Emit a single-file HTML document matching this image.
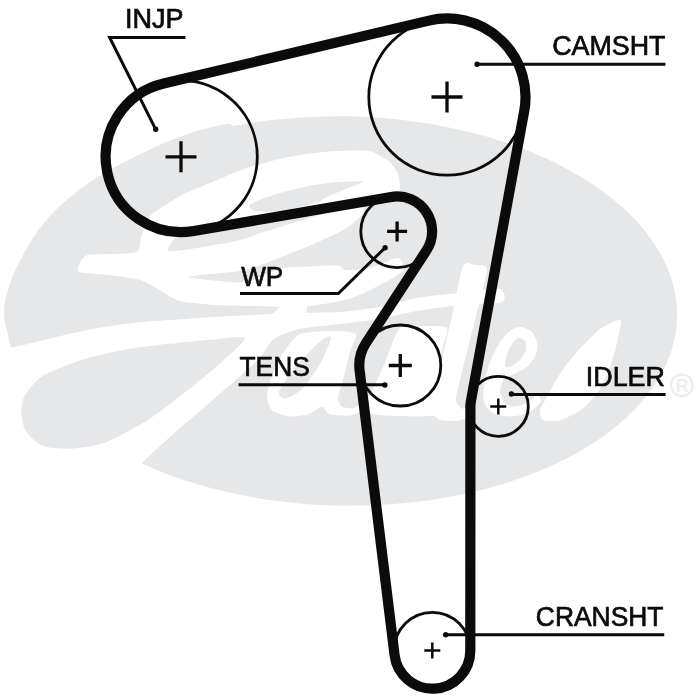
<!DOCTYPE html>
<html lang="en"><head><meta charset="utf-8"><title>Timing belt diagram</title>
<style>html,body{margin:0;padding:0;background:#fff}body{width:700px;height:700px;overflow:hidden}svg{display:block}text{font-family:"Liberation Sans",Arial,sans-serif;fill:#0b0b0b;stroke:#0b0b0b;stroke-width:0.7px}</style></head><body>
<svg width="700" height="700" viewBox="0 0 700 700">
<rect width="700" height="700" fill="#fff"/>
<g id="logo"><ellipse cx="344.0" cy="311" rx="333.2" ry="194.7" transform="rotate(1 344 311)" fill="#e6e7e9"/>
<path d="M230.0,124.0C226.5,123.1 206.8,128.1 200.0,130.0C193.2,131.9 178.1,137.3 171.4,140.0C164.7,142.7 149.6,149.5 142.9,152.8C136.2,156.1 121.0,164.4 114.3,168.4C107.6,172.4 92.4,181.9 85.7,187.0C79.0,192.1 63.7,205.4 57.0,212.4C50.3,219.4 33.6,240.0 28.6,247.0C23.6,254.0 17.0,266.4 14.3,272.4C11.6,278.3 6.9,292.8 5.7,298.0C4.5,303.2 3.9,312.7 4.2,317.0C4.5,321.3 7.0,331.4 8.0,335.0C9.0,338.6 8.8,347.4 12.5,348.0C16.2,348.6 36.8,347.9 40.0,340.0C43.2,332.1 36.5,293.1 40.0,280.0C43.5,266.9 61.8,238.5 70.0,228.0C78.2,217.5 100.7,197.3 110.0,190.0C119.3,182.7 139.5,170.2 150.0,165.0C160.5,159.8 190.7,148.2 200.0,145.0C209.3,141.8 226.5,140.4 230.0,138.0C233.5,135.6 233.5,124.9 230.0,124.0Z" fill="#e6e7e9"/>
<path d="M85.7,255.7C89.6,253.7 106.0,254.4 112.0,254.0C118.0,253.6 133.6,253.9 137.0,252.0C140.4,250.1 139.5,242.2 141.0,238.0C142.5,233.8 145.2,221.0 150.0,216.0C154.8,211.0 174.4,199.1 182.0,195.0C189.6,190.9 208.7,183.7 215.0,181.0C221.3,178.3 231.1,173.9 236.0,172.0C240.9,170.1 252.0,166.5 257.0,165.0C262.0,163.5 274.0,160.2 279.0,159.0C284.0,157.8 294.9,155.8 300.0,155.0C305.1,154.2 317.1,152.5 323.0,152.0C328.9,151.5 345.4,150.6 351.0,150.5C356.6,150.4 366.6,150.3 371.0,151.5C375.4,152.7 385.6,158.6 388.6,161.0C391.6,163.4 395.7,169.2 397.0,172.0C398.3,174.8 399.9,182.4 400.0,185.0C400.1,187.6 399.1,192.5 398.0,194.0C396.9,195.5 402.4,195.7 391.0,198.0C379.6,200.3 322.3,210.2 300.0,214.0C277.7,217.8 214.2,228.4 200.0,231.0C185.8,233.6 181.7,233.7 178.0,236.0C174.3,238.3 165.4,249.7 168.0,251.0C170.6,252.3 191.6,248.8 200.0,247.5C208.4,246.2 232.8,241.8 240.0,240.0C247.2,238.2 256.8,234.2 262.0,232.5C267.2,230.8 279.9,227.1 285.0,225.5C290.1,223.9 300.8,220.6 306.0,219.0C311.2,217.4 324.3,213.5 330.0,212.0C335.7,210.5 351.0,206.3 355.0,206.0C359.0,205.7 363.5,207.6 364.0,209.0C364.5,210.4 361.3,215.6 359.0,218.0C356.7,220.4 347.7,227.2 344.0,229.5C340.3,231.8 331.1,236.1 327.0,238.0C322.9,239.9 312.9,244.2 308.6,246.0C304.3,247.8 295.1,251.5 290.0,253.5C284.9,255.5 270.8,261.5 265.0,263.5C259.2,265.5 249.0,269.4 240.0,271.0C231.0,272.6 188.0,275.7 188.0,277.0C188.0,278.3 231.4,282.6 240.0,282.5C248.6,282.4 256.9,277.7 262.0,276.0C267.1,274.3 278.4,269.1 284.0,268.0C289.6,266.9 303.6,266.8 310.0,266.5C316.4,266.2 334.5,265.3 338.6,265.7C342.7,266.1 341.3,269.7 345.0,270.0C348.7,270.3 363.8,269.4 370.0,268.0C376.2,266.6 394.3,257.5 398.0,258.0C401.7,258.5 405.3,268.3 402.0,272.0C398.7,275.7 376.6,286.7 370.0,290.0C363.4,293.3 353.2,298.0 345.0,300.0C336.8,302.0 311.1,306.3 300.0,307.0C288.9,307.7 260.0,306.2 250.0,306.0C240.0,305.8 222.3,305.6 214.0,305.0C205.7,304.4 184.9,302.4 178.6,300.7C172.3,298.9 164.5,292.4 160.0,290.0C155.5,287.6 145.8,281.8 140.0,280.0C134.2,278.2 117.2,276.0 110.0,275.0C102.8,274.0 81.4,273.7 78.6,271.4C75.8,269.1 81.8,257.7 85.7,255.7Z" fill="#fff"/>
<path d="M249.0,206.0C249.5,204.6 256.2,201.1 260.3,199.4C264.4,197.7 278.5,193.3 284.3,191.7C290.1,190.1 304.0,186.8 310.0,185.7C316.0,184.6 329.5,182.8 335.7,182.3C341.9,181.8 361.8,180.6 363.0,181.4C364.2,182.2 350.2,187.2 346.0,189.0C341.8,190.8 330.2,195.5 327.0,197.0C323.8,198.5 321.8,200.8 318.6,202.0C315.5,203.2 305.1,205.9 300.0,207.0C294.9,208.1 280.1,211.0 275.0,211.5C269.9,212.0 259.0,211.6 256.0,211.0C253.0,210.4 248.5,207.4 249.0,206.0Z" fill="#e6e7e9"/>
<path d="M-10.0,352.0C-7.4,336.5 7.2,348.7 12.5,347.5C17.8,346.3 28.8,343.6 35.7,342.0C42.6,340.4 63.1,335.3 71.4,333.5C79.7,331.7 98.6,327.8 107.0,326.5C115.4,325.2 134.6,322.8 143.0,322.0C151.4,321.2 170.3,320.1 178.6,319.5C186.9,318.9 205.7,317.5 214.0,317.0C222.3,316.5 240.0,315.5 250.0,315.0C260.0,314.5 289.5,313.4 300.0,313.0C310.5,312.6 330.7,312.7 340.0,312.0C349.3,311.3 371.4,308.6 380.0,307.0C388.6,305.4 407.0,299.9 414.0,298.5C421.0,297.1 434.6,295.6 440.0,295.0C445.4,294.4 453.0,293.7 460.0,293.0C467.0,292.3 495.1,287.9 500.0,289.0C504.9,290.1 506.7,300.1 502.0,302.0C497.3,303.9 467.2,304.9 460.0,305.5C452.8,306.1 445.4,306.8 440.0,307.5C434.6,308.2 421.0,310.2 414.0,311.5C407.0,312.8 388.6,317.5 380.0,319.0C371.4,320.5 349.3,322.8 340.0,324.0C330.7,325.2 307.7,327.2 300.0,329.0C292.3,330.8 279.0,335.3 274.0,339.0C269.0,342.7 264.0,353.7 257.0,360.7C250.0,367.7 224.0,390.2 214.0,399.0C204.0,407.8 179.9,428.2 171.4,435.7C162.9,443.2 147.4,457.3 141.4,463.6C135.4,469.9 129.5,485.8 120.0,490.0C110.5,494.2 75.2,501.2 60.0,500.0C44.8,498.8 -1.8,497.3 -10.0,480.0C-18.2,462.7 -12.6,367.5 -10.0,352.0Z" fill="#fff"/>
<path d="M246.0,338.0C246.9,334.6 264.6,320.9 270.0,316.0C275.4,311.1 287.1,300.4 292.0,296.0C296.9,291.6 306.6,281.5 312.0,278.0C317.4,274.5 335.4,265.8 338.0,266.0C340.6,266.2 335.6,276.9 334.0,280.0C332.4,283.1 326.8,290.7 324.0,293.0C321.2,295.3 312.4,296.9 310.0,300.0C307.6,303.1 305.9,316.3 303.0,320.0C300.1,323.7 289.8,329.1 285.0,332.0C280.2,334.9 266.6,344.3 262.0,345.0C257.4,345.7 245.1,341.4 246.0,338.0Z" fill="#fff"/>
<path d="M21.4,412.0C21.3,407.8 22.5,399.2 25.0,395.0C27.5,390.8 35.9,379.9 43.0,375.7C50.1,371.5 75.7,361.7 85.7,358.6C95.7,355.5 118.6,350.8 128.6,349.0C138.6,347.2 161.4,344.7 171.4,343.6C181.4,342.5 205.4,340.2 214.0,339.5C222.6,338.8 243.9,335.5 245.0,338.0C246.1,340.5 229.1,355.1 223.0,360.7C216.9,366.3 201.5,379.2 193.0,386.0C184.5,392.8 160.0,412.1 150.0,418.6C140.0,425.1 116.0,438.5 107.0,442.0C98.0,445.5 80.5,448.1 73.0,448.6C65.5,449.1 48.5,448.1 43.0,446.0C37.5,443.9 28.2,435.0 25.7,431.0C23.2,427.0 21.5,416.2 21.4,412.0Z" fill="#e6e7e9"/>
<path d="M300.0,334.0C305.9,331.6 328.5,331.0 335.0,331.0C341.5,331.0 354.2,331.6 356.0,334.0C357.8,336.4 351.5,346.6 350.0,352.0C348.5,357.4 344.4,374.7 343.0,380.0C341.6,385.3 338.1,394.6 338.0,397.8C337.9,400.9 340.4,405.4 342.0,406.6C343.6,407.9 349.9,408.6 352.0,408.4C354.1,408.2 358.8,404.6 360.0,404.9C361.2,405.1 363.2,408.9 362.0,410.2C360.8,411.4 353.7,415.0 350.0,415.5C346.3,416.0 333.3,415.6 330.0,414.6C326.7,413.6 324.3,406.7 322.0,406.6C319.7,406.5 313.7,412.6 310.0,413.7C306.3,414.9 294.4,416.8 290.0,416.4C285.6,416.0 274.7,412.6 272.0,410.2C269.3,407.8 267.0,400.0 267.0,396.0C267.0,392.0 270.0,381.1 272.0,376.0C274.0,370.9 280.7,356.9 284.0,352.0C287.3,347.1 294.1,336.4 300.0,334.0Z" fill="#fff"/>
<path d="M322.0,340.0C326.1,336.7 331.2,335.2 331.0,338.0C330.8,340.8 323.4,358.1 320.0,364.0C316.6,369.9 306.1,384.8 302.0,388.9C297.9,392.9 287.7,398.3 285.0,398.6C282.3,398.9 277.7,395.3 279.0,391.5C280.3,387.7 291.0,372.0 296.0,366.0C301.0,360.0 317.9,343.3 322.0,340.0Z" fill="#e6e7e9"/>
<path d="M400.0,328.0C404.4,324.0 418.5,326.0 424.0,326.0C429.5,326.0 444.9,325.2 447.0,328.0C449.1,330.8 443.1,343.9 442.0,350.0C440.9,356.1 438.2,373.9 438.0,380.0C437.8,386.1 439.1,398.9 440.0,402.2C440.9,405.5 445.5,407.0 446.0,408.4C446.5,409.8 447.0,413.7 444.0,414.6C441.0,415.5 426.9,416.3 420.0,416.4C413.1,416.5 391.1,416.0 385.0,415.5C378.9,415.0 370.2,413.4 368.0,411.9C365.8,410.5 365.3,406.0 366.0,403.1C366.7,400.2 371.7,392.1 374.0,387.1C376.3,382.1 383.0,366.9 386.0,360.0C389.0,353.1 395.6,332.0 400.0,328.0Z" fill="#fff"/>
<path d="M463.0,266.0C465.7,260.1 472.2,264.6 475.0,265.0C477.8,265.4 486.9,263.1 487.0,269.0C487.1,274.9 478.9,304.0 476.0,316.0C473.1,328.0 464.3,362.3 462.0,372.0C459.7,381.7 456.0,395.3 456.0,399.5C456.0,403.8 460.1,407.6 462.0,408.4C463.9,409.2 470.6,406.0 472.0,406.6C473.4,407.2 475.6,412.1 474.0,413.7C472.4,415.4 462.2,420.2 458.0,420.8C453.8,421.4 441.0,420.9 438.0,419.1C435.0,417.2 431.8,410.8 432.0,404.9C432.2,398.9 437.7,378.4 440.0,368.0C442.3,357.6 449.3,327.9 452.0,316.0C454.7,304.1 460.3,271.9 463.0,266.0Z" fill="#fff"/>
<path d="M520.0,327.0C522.5,327.0 529.0,329.2 531.0,331.0C533.0,332.8 536.4,339.3 537.0,342.0C537.6,344.7 537.0,351.2 536.0,354.0C535.0,356.8 530.6,363.7 528.0,366.0C525.4,368.3 516.8,372.5 514.0,374.0C511.2,375.5 505.6,377.1 504.0,379.0C502.4,380.9 500.0,387.9 500.0,390.6C500.0,393.4 502.4,400.3 504.0,402.2C505.6,404.1 511.4,406.5 514.0,406.6C516.6,406.7 523.3,404.3 526.0,403.1C528.7,401.8 535.2,396.2 537.0,396.0C538.8,395.8 541.8,399.4 541.0,401.3C540.2,403.2 533.4,410.2 530.0,411.9C526.6,413.7 516.2,416.2 512.0,416.4C507.8,416.6 497.3,415.4 494.0,413.7C490.7,412.1 485.2,405.6 484.0,402.2C482.8,398.8 483.3,389.1 484.0,384.4C484.7,379.7 488.1,367.0 490.0,362.0C491.9,357.0 497.7,345.6 500.0,342.0C502.3,338.4 507.7,332.8 510.0,331.0C512.3,329.2 517.5,327.0 520.0,327.0Z" fill="#fff"/>
<path d="M518.0,338.0C519.5,337.6 524.1,339.6 525.0,341.0C525.9,342.4 526.6,347.8 526.0,350.0C525.4,352.2 521.9,358.0 520.0,360.0C518.1,362.0 511.8,366.3 510.0,367.0C508.2,367.7 505.4,367.5 505.0,366.0C504.6,364.5 506.2,356.6 507.0,354.0C507.8,351.4 510.7,345.9 512.0,344.0C513.3,342.1 516.5,338.4 518.0,338.0Z" fill="#e6e7e9"/>
<path d="M618.0,320.0C620.5,319.3 621.2,319.9 621.0,323.0C620.8,326.1 617.4,341.5 616.0,347.0C614.6,352.5 611.1,364.8 609.0,370.0C606.9,375.2 601.1,387.0 598.0,391.5C594.9,396.1 586.3,406.0 582.0,409.3C577.7,412.6 565.5,418.7 561.0,419.9C556.5,421.2 545.5,421.1 543.0,419.9C540.5,418.8 539.2,413.5 540.0,410.2C540.8,406.9 547.5,396.0 550.0,391.5C552.5,387.1 557.9,376.6 561.0,372.0C564.1,367.4 572.5,357.0 577.0,352.0C581.5,347.0 595.2,332.7 600.0,329.0C604.8,325.3 615.5,320.7 618.0,320.0Z" fill="#fff"/>
</g>
<g id="reg" fill="none" stroke="#eeeeef" stroke-width="2.4"><circle cx="681.8" cy="385.3" r="10.8"/></g>
<text x="682" y="391.6" font-size="17.5" text-anchor="middle" style="fill:#eeeeef;stroke:none;font-weight:bold">R</text>
<g id="pulleys" fill="none" stroke="#0b0b0b" stroke-width="2.8">
<circle cx="181.0" cy="156.8" r="76.3"/>
<circle cx="447.0" cy="97.0" r="78.2"/>
<circle cx="498.3" cy="406.4" r="30.0"/>
<circle cx="432.3" cy="650.6" r="38.2"/>
<circle cx="400.3" cy="365.5" r="40.5"/>
<circle cx="397.1" cy="231.4" r="36.3"/>
</g>
<g id="crosses" fill="none" stroke="#0b0b0b">
<path d="M165.5,156.8H196.5M181.0,141.3V172.3" stroke-width="3.3"/>
<path d="M431.5,97.0H462.5M447.0,81.5V112.5" stroke-width="3.3"/>
<path d="M490.3,406.4H506.3M498.3,398.4V414.4" stroke-width="2.5"/>
<path d="M424.3,650.6H440.3M432.3,642.6V658.6" stroke-width="2.5"/>
<path d="M388.8,365.5H411.8M400.3,354.0V377.0" stroke-width="3.3"/>
<path d="M387.1,231.4H407.1M397.1,221.4V241.4" stroke-width="3.3"/>
</g>
<g id="leaders" fill="none" stroke="#0b0b0b" stroke-width="3.0" stroke-linejoin="miter">
<polyline points="185.4,37.4 109.6,37.4 155.7,129.3"/>
<polyline points="665.4,64.2 477.1,64.2"/>
<polyline points="240.0,293.6 338.3,293.6 385.1,247.7"/>
<polyline points="238.6,384.8 384.9,384.8"/>
<polyline points="665.6,394.6 511.4,394.6"/>
<polyline points="664.2,634.7 445.7,634.7"/>
</g>
<g id="dots" fill="#0b0b0b">
<circle cx="155.7" cy="129.3" r="2.7"/>
<circle cx="477.1" cy="64.3" r="2.7"/>
<circle cx="385.1" cy="247.7" r="2.7"/>
<circle cx="384.9" cy="385.0" r="2.7"/>
<circle cx="511.4" cy="394.0" r="2.7"/>
<circle cx="445.7" cy="634.8" r="2.7"/>
</g>
<path id="belt" d="M163.62,83.53 L428.88,20.62 A78.50,78.50 0 0 1 524.21,111.19 L470.86,401.36 A27.90,27.90 0 0 0 470.40,406.39 L470.30,650.62 A38.00,38.00 0 0 1 394.58,655.23 L359.61,370.50 A41.00,41.00 0 0 1 365.97,343.08 L426.41,250.54 A35.00,35.00 0 0 0 391.14,196.91 L193.82,231.00 A75.30,75.30 0 0 1 163.62,83.53 Z" fill="none" stroke="#0b0b0b" stroke-width="10.2" stroke-linejoin="round"/>
<g id="labels" style="will-change:opacity;opacity:0.999">
<text x="125.0" y="27.6" font-size="26.8" textLength="58.55" lengthAdjust="spacingAndGlyphs">INJP</text>
<text x="552.28" y="55.3" font-size="26.8" textLength="113.13" lengthAdjust="spacingAndGlyphs">CAMSHT</text>
<text x="241.2" y="286.2" font-size="26.8" textLength="41.98" lengthAdjust="spacingAndGlyphs">WP</text>
<text x="239.5" y="375.7" font-size="26.8" textLength="70.24" lengthAdjust="spacingAndGlyphs">TENS</text>
<text x="585.84" y="386.1" font-size="26.8" textLength="79.08" lengthAdjust="spacingAndGlyphs">IDLER</text>
<text x="535.82" y="625.7" font-size="26.8" textLength="127.63" lengthAdjust="spacingAndGlyphs">CRANSHT</text>
</g>
</svg></body></html>
